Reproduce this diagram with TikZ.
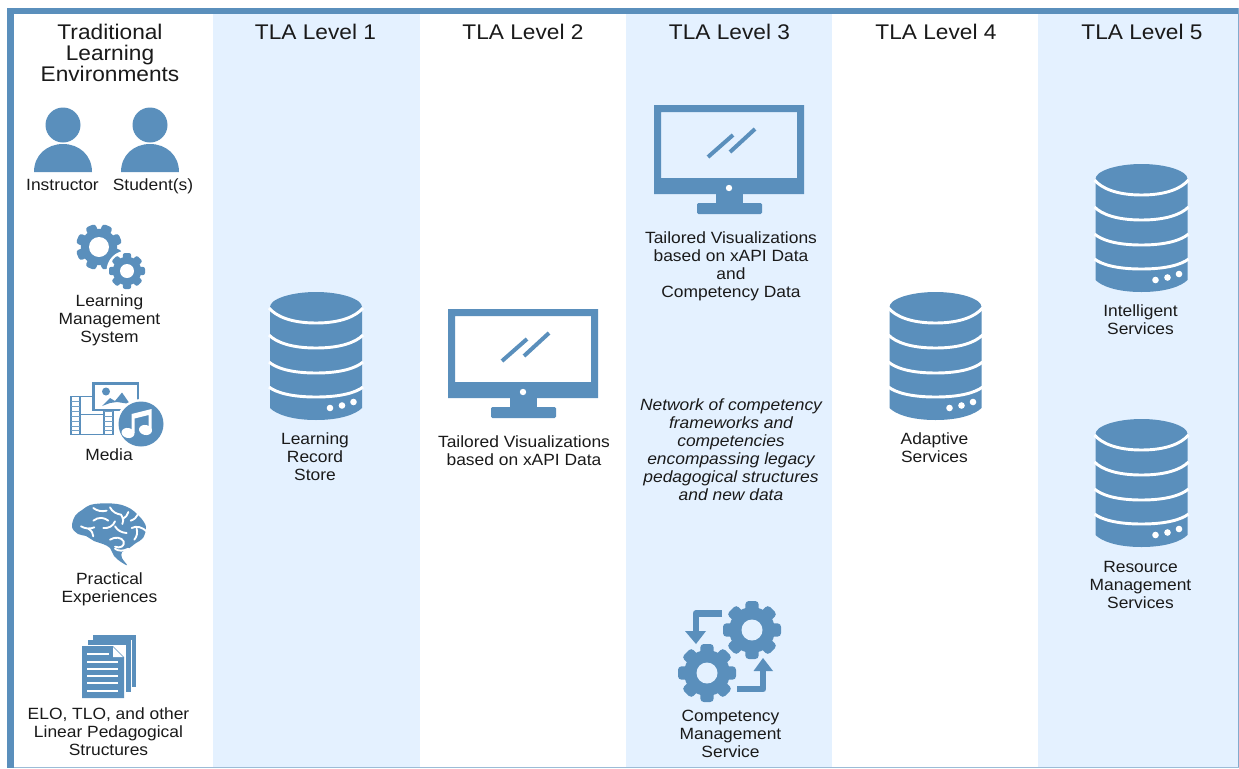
\documentclass[tikz,border=0pt]{standalone}
\usepackage{fontspec}
\setmainfont[FakeStretch=1.07]{Liberation Sans}
\definecolor{iconblue}{HTML}{5A8FBC}
\definecolor{panelblue}{HTML}{E4F1FF}
\definecolor{textdark}{HTML}{1A1A1A}
\newcommand{\dbband}[2]{\draw[white,line width=2.2] (-47,#1) .. controls (-40,{#1+0.55*#2}) and (-25,{#1+#2}) .. (0,{#1+#2}) .. controls (25,{#1+#2}) and (40,{#1+0.55*#2}) .. (47,#1);}
\tikzset{
  x=0.75pt,y=-0.75pt,
  head/.style={font=\fontsize{15.9}{15.9}\selectfont,text=textdark,align=center,inner sep=0,anchor=center},
  lab/.style={font=\fontsize{12.2}{13.5}\selectfont,text=textdark,align=center,inner sep=0,anchor=center},
  ilab/.style={lab,font=\fontsize{12.2}{13.5}\selectfont\itshape},
  pics/dbicon/.style={code={
    \fill[iconblue] (-46,-49) .. controls (-46,-57) and (-25,-64) .. (0,-64) .. controls (25,-64) and (46,-57) .. (46,-49)
      -- (46,52) .. controls (40,58) and (25,64) .. (0,64) .. controls (-25,64) and (-40,58) .. (-46,52) -- cycle;
    \dbband{-48}{15}\dbband{-21}{13}\dbband{6}{11}\dbband{31}{10}
    \fill[white] (14,52) circle (3.3) (26,49.5) circle (3.3) (37.5,46) circle (3.3);
  }},
  pics/monitor/.style={code={
    \fill[iconblue,even odd rule] (-75,-55) rectangle (75,34) (-68,-48) rectangle (68,18);
    \fill[iconblue] (-13,34) rectangle (14,44);
    \fill[iconblue,rounded corners=1] (-32,43) rectangle (33,54);
    \draw[iconblue,line width=3] (-21,-3) -- (4,-25) (1,-8) -- (26,-31);
    \fill[white] (0,28) circle (3.2);
  }},
  pics/gearicon/.style n args={4}{code={
    \foreach \a in {0,45,...,315}{
      \fill[iconblue,rotate=\a+#4,rounded corners=#1*0.09pt] (-0.23*#1,0.6*#1) rectangle (0.23*#1,1.0*#1);
    }
    \fill[iconblue] (0,0) circle (0.79*#1);
    \fill[#3] (0,0) circle (#2);
  }},
  pics/person/.style={code={
    \fill[iconblue] (0,0) circle (17.5);
    \fill[iconblue] (-29,47) .. controls (-29,30) and (-16,19) .. (0,19) .. controls (16,19) and (29,30) .. (29,47) -- cycle;
  }},
}
\begin{document}
\begin{tikzpicture}
\useasboundingbox (0,0) rectangle (1239,768);
\fill[white] (0,0) rectangle (1239,768);
% panels
\fill[panelblue] (213,14) rectangle (420,768);
\fill[panelblue] (626,14) rectangle (832,768);
\fill[panelblue] (1038,14) rectangle (1239,768);
% frame
\fill[iconblue] (7,8) rectangle (1239,14);
\fill[iconblue] (7,8) rectangle (14,768);
\fill[iconblue!75] (1238,8) rectangle (1239,768);
\fill[iconblue!60] (14,767) rectangle (1239,768);
% headings
\node[head] (h0) at (110,53) {\fontsize{15.9}{15}\selectfont Traditional\\Learning\\Environments};
\node[head] (h1) at (315.5,31.5) {TLA Level 1};
\node[head] (h2) at (523,31.5) {TLA Level 2};
\node[head] (h3) at (729.5,31.5) {TLA Level 3};
\node[head] (h4) at (936,31.5) {TLA Level 4};
\node[head] (h5) at (1142,31.5) {TLA Level 5};
% people
\pic at (63,125) {person};
\pic at (150,125) {person};
\node[lab,anchor=base] (instr) at (62.5,190) {Instructor};
\node[lab,anchor=base] (stud) at (153,190) {Student(s)};
% LMS gears
\pic at (99,247) {gearicon={23}{10}{white}{22.5}};
\fill[white] (127,271) circle (20.5);
\pic at (127,271) {gearicon={18}{7}{white}{0}};
\node[lab] (lms) at (109.5,320.5) {Learning\\Management\\System};
% media
\draw[iconblue,line width=1.2] (71,396.5) rectangle (113,434.5);
\draw[iconblue,line width=1.2] (80,396.5) -- (80,434.5) (104,396.5) -- (104,434.5) (80,414.5) -- (104,414.5);
\foreach \yy in {402,407,412,417,422,427,431}{
  \fill[iconblue!85] (71,{\yy-1}) rectangle (80,\yy);
  \fill[iconblue!85] (104,{\yy-1}) rectangle (113,\yy);
}
\draw[iconblue,line width=1.6,fill=white] (93.5,383.5) rectangle (138,410);
\fill[iconblue] (106,391.5) circle (4);
\fill[iconblue] (102,406) -- (110,398) -- (115,401) -- (122,392.5) -- (130,404) -- (117,402) -- (110,403) -- cycle;
\fill[white] (141,424) circle (25);
\fill[iconblue] (141,424) circle (22.5);
\fill[white,rotate around={-12:(128,433)}] (128,433) ellipse (6.5 and 5);
\fill[white,rotate around={-12:(145.5,430)}] (145.5,430) ellipse (6.5 and 5);
\fill[white] (131.5,414) -- (151.5,409) -- (151.5,430) -- (148.5,430) -- (148.5,415) -- (134.5,418.5) -- (134.5,433) -- (131.5,433) -- cycle;
\node[lab] (media) at (109,454.5) {Media};
% brain
\fill[iconblue] plot[smooth cycle,tension=0.6] coordinates {
 (72,527) (75,516) (82,510) (90,505) (100,503.5) (112,503.5) (122,505) (131,509)
 (137,514) (141,518) (146,527) (143,538) (136,543) (128,549) (122,552) (122,558)
 (127,565) (121,562) (114,556) (110,548) (103,544) (94,541) (86,536) (78,534)};
\begin{scope}[shift={(65,498)},x=0.25pt,y=-0.25pt,white,line width=1.4,line cap=round,line join=round]
\draw (85,68) .. controls (100,56) and (118,58) .. (130,68);
\draw (48,85) .. controls (60,92) and (75,94) .. (88,88);
\draw (70,92) .. controls (80,98) and (84,105) .. (85,115);
\draw (85,30) .. controls (95,38) and (110,42) .. (125,38);
\draw (135,28) .. controls (142,42) and (155,48) .. (168,50) .. controls (176,56) and (176,66) .. (172,78);
\draw (172,62) .. controls (182,58) and (188,52) .. (190,42);
\draw (115,90) .. controls (130,92) and (145,84) .. (150,70);
\draw (150,85) .. controls (158,98) and (170,104) .. (185,105);
\draw (197,68) .. controls (208,64) and (215,58) .. (218,50);
\draw (200,90) .. controls (215,82) and (232,88) .. (245,100);
\draw (215,92) .. controls (218,105) and (216,115) .. (208,125);
\draw (135,125) .. controls (150,115) and (170,118) .. (176,130) .. controls (180,145) and (165,152) .. (150,146);
\draw (150,152) .. controls (160,160) and (175,160) .. (190,152);
\end{scope}
\node[lab] (prac) at (109.5,589.5) {Practical\\Experiences};
% documents
\fill[iconblue] (93,635) rectangle (136,687);
\fill[white] (87,639.5) rectangle (132,692.5);
\fill[iconblue] (87.5,640) rectangle (130.5,692);
\fill[white] (81,645) rectangle (125.5,699);
\fill[iconblue] (82,646) -- (113,646) -- (124,657) -- (124,698) -- (82,698) -- cycle;
\fill[white] (113,647) -- (123,657) -- (113,657) -- cycle;
\foreach \yy/\xe in {654/109,662/118,669/118,676/118,683/118,691/118}{
  \draw[white,line width=0.9] (87,\yy) -- (\xe,\yy);
}
\node[lab] (elo) at (108.5,732) {ELO, TLO, and other\\Linear Pedagogical\\Structures};
% level 1
\pic at (316,356) {dbicon};
\node[lab] (lrs) at (315,456.5) {Learning\\Record\\Store};
% level 2
\pic at (523,364) {monitor};
\node[lab] (tv2) at (524,451) {Tailored Visualizations\\based on xAPI Data};
% level 3
\pic at (729,160) {monitor};
\node[lab] (tv3) at (731,266) {Tailored Visualizations\\based on xAPI Data\\and\\Competency Data};
\node[ilab] (net) at (731,449.5) {Network of competency\\frameworks and\\competencies\\encompassing legacy\\pedagogical structures\\and new data};
\pic at (752,630) {gearicon={29}{10.5}{panelblue}{0}};
\pic at (707,673) {gearicon={29}{10.5}{panelblue}{0}};
\coordinate (a1s) at (722,613.5);
\coordinate (a1c) at (696,613.5);
\coordinate (a1e) at (696,632);
\draw[iconblue,line width=5,line join=round] (a1s) -- (a1c) -- (a1e);
\fill[iconblue] (685,631) -- (706,631) -- (696,644) -- cycle;
\coordinate (a2s) at (737,689);
\coordinate (a2c) at (763,689);
\coordinate (a2e) at (763,670);
\draw[iconblue,line width=5,line join=round] (a2s) -- (a2c) -- (a2e);
\fill[iconblue] (753.5,671) -- (773,671) -- (763,658) -- cycle;
\node[lab] (cms) at (730.5,734) {Competency\\Management\\Service};
% level 4
\pic at (935.5,356) {dbicon};
\node[lab] (ad) at (934.5,448) {Adaptive\\Services};
% level 5
\pic at (1141.5,228) {dbicon};
\node[lab] (is) at (1140.5,320) {Intelligent\\Services};
\pic at (1141.5,483) {dbicon};
\node[lab] (rm) at (1140.5,584.5) {Resource\\Management\\Services};
\end{tikzpicture}
\end{document}
